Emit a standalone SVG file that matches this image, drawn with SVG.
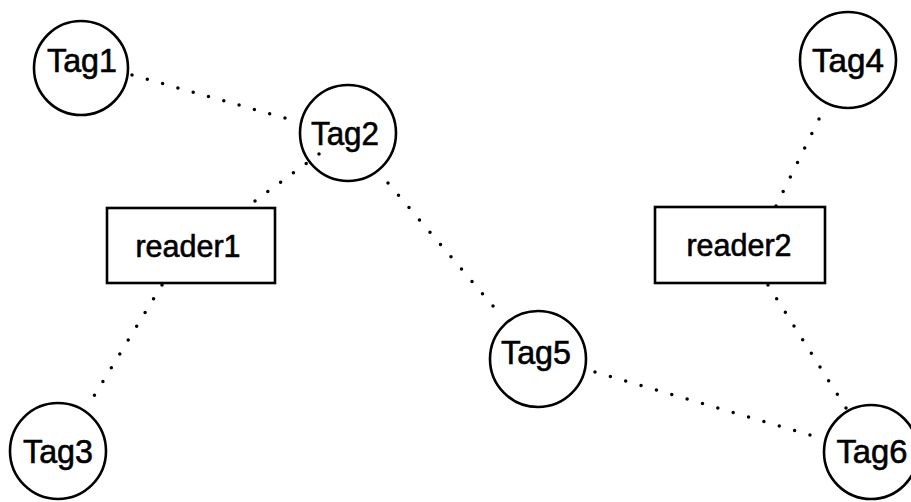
<svg xmlns="http://www.w3.org/2000/svg" width="911" height="502" viewBox="0 0 911 502">
<style>
.node{fill:none;stroke:#000;stroke-width:2.6}
.lbl{font-family:"Liberation Sans",Arial,sans-serif;font-size:30.5px;fill:#000;stroke:#000;stroke-width:0.6;text-anchor:middle}
.tag{font-size:32.5px}
.dot{fill:none;stroke:#000;stroke-width:3.5;stroke-linecap:round}
</style>
<rect width="911" height="502" fill="#fff"/>
<g id="connectors">
<line class="dot" x1="132" y1="75" x2="285" y2="118" stroke-dasharray="0 15.89"/>
<line class="dot" x1="255" y1="201" x2="319" y2="154" stroke-dasharray="0 15.88"/>
<line class="dot" x1="162" y1="285" x2="86" y2="409" stroke-dasharray="0 16.16"/>
<line class="dot" x1="388" y1="183" x2="493" y2="306" stroke-dasharray="0 16.17"/>
<line class="dot" x1="595" y1="372" x2="810" y2="435" stroke-dasharray="0 16.0"/>
<line class="dot" x1="768" y1="285" x2="846" y2="408" stroke-dasharray="0 16.18"/>
<line class="dot" x1="819" y1="119" x2="776" y2="206" stroke-dasharray="0 16.17"/>
</g>
<g id="Tag1"><circle class="node" cx="81" cy="68" r="47"/><text class="lbl tag" x="82" y="72" textLength="70" lengthAdjust="spacingAndGlyphs">Tag1</text></g>
<g id="Tag2"><circle class="node" cx="348" cy="133" r="48"/><text class="lbl tag" x="345" y="145" textLength="68" lengthAdjust="spacingAndGlyphs">Tag2</text></g>
<g id="Tag3"><circle class="node" cx="58" cy="451" r="48"/><text class="lbl tag" x="58" y="463" textLength="70" lengthAdjust="spacingAndGlyphs">Tag3</text></g>
<g id="Tag4"><circle class="node" cx="848" cy="60" r="48"/><text class="lbl tag" x="848" y="72" textLength="72" lengthAdjust="spacingAndGlyphs">Tag4</text></g>
<g id="Tag5"><circle class="node" cx="538" cy="359" r="48"/><text class="lbl tag" x="536" y="364" textLength="70" lengthAdjust="spacingAndGlyphs">Tag5</text></g>
<g id="Tag6"><circle class="node" cx="871" cy="452" r="47"/><text class="lbl tag" x="872" y="463" textLength="71" lengthAdjust="spacingAndGlyphs">Tag6</text></g>
<g id="reader1"><rect class="node" x="107" y="208" width="168" height="75"/><text class="lbl" x="188" y="257">reader1</text></g>
<g id="reader2"><rect class="node" x="655" y="207" width="170" height="76"/><text class="lbl" x="739" y="256">reader2</text></g>
</svg>
